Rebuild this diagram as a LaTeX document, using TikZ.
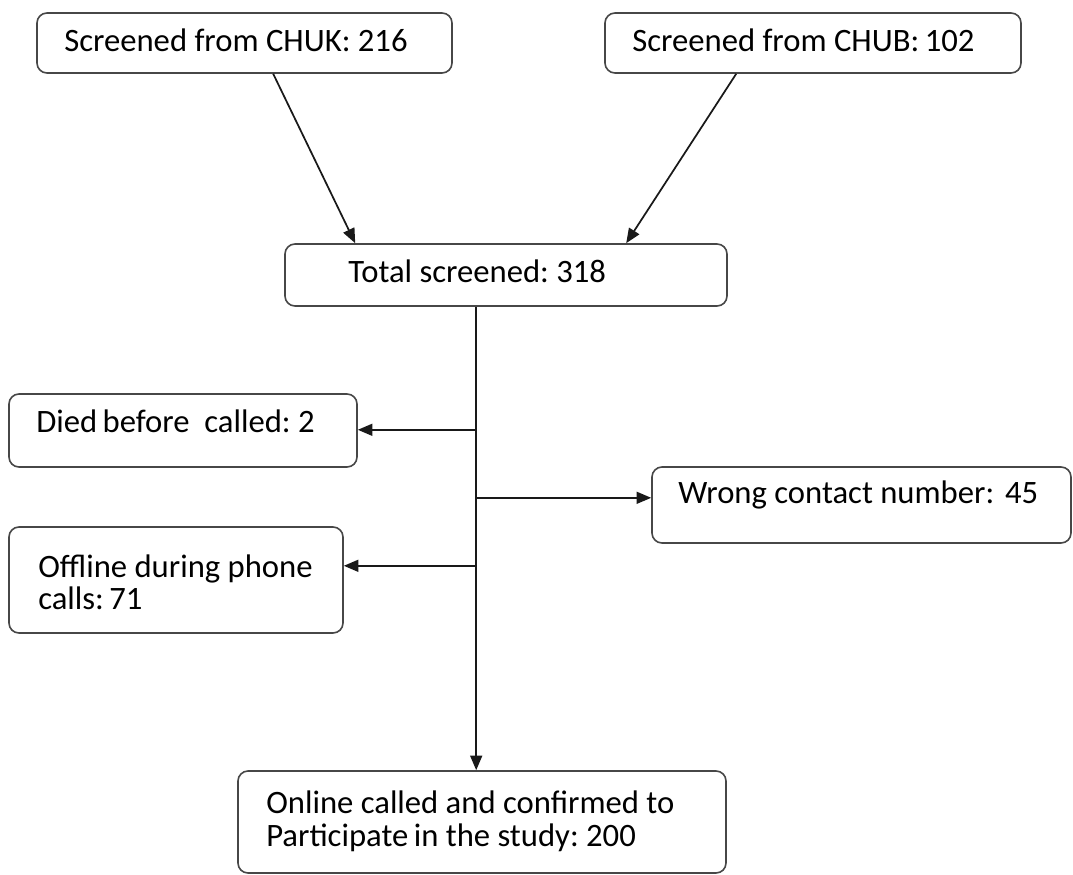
\documentclass[tikz,border=0pt]{standalone}
\usepackage{fontspec}
\setmainfont{Carlito}
\usetikzlibrary{arrows.meta,fit,calc}
\frenchspacing
\begin{document}
\begin{tikzpicture}[x=0.75pt,y=-0.75pt,
  box/.style={draw=black!72,line width=1.2pt,rounded corners=7.5pt,inner sep=0pt},
  txt/.style={anchor=base west,inner sep=0pt,font=\fontsize{24.5}{30}\selectfont},
  conn/.style={line width=1.3pt,draw=black!90,-{Triangle[length=11pt,width=9pt]}},
  plain/.style={line width=1.3pt,draw=black!90}]
\useasboundingbox (0,0) rectangle (1073,874);
% boxes
\node[box,fit={(37,13) (452,73)}] (b1) {};
\node[box,fit={(605,13) (1021,73)}] (b2) {};
\node[box,fit={(285,244) (727,306)}] (b3) {};
\node[box,fit={(9,394) (357,467)}] (b4) {};
\node[box,fit={(652,467) (1071,543)}] (b5) {};
\node[box,fit={(9,527) (343,633)}] (b6) {};
\node[box,fit={(238,771) (726,873)}] (b7) {};
% texts
\node[txt] (t1) at (64,51) {Screened from CHUK: 216};
\node[txt] (t2) at (632,51) {Screened from CHUB:\,102};
\node[txt] (t3) at (348,282) {Total screened: 318};
\node[txt] (t4) at (36,432) {Died\,before\ \ called: 2};
\node[txt] (t5) at (678,503) {Wrong contact number:\hspace{2.5pt} 45};
\node[txt] (t6) at (38,577) {Offline during phone};
\node[txt] (t6b) at (38,609) {calls:\,71};
\node[txt] (t7) at (266,813) {Online called and confirmed to};
\node[txt] (t7b) at (266,846) {Participate\,in the study: 200};
% connectors
\draw[conn] ($(b1.south west)+(237,0)$) -- ($(b3.north west)+(71,0)$);
\draw[conn] ($(b2.south west)+(132,0)$) -- ($(b3.north west)+(342,0)$);
\coordinate (top) at ($(b3.south west)+(192,0)$);
\draw[conn] (top) -- (top |- b7.north);
\coordinate (j1) at ($(top)+(0,123)$);
\coordinate (j2) at ($(top)+(0,191)$);
\coordinate (j3) at ($(top)+(0,259)$);
\draw[conn] (j1) -- (j1 -| b4.east);
\draw[conn] (j2) -- (j2 -| b5.west);
\draw[conn] (j3) -- (j3 -| b6.east);
\end{tikzpicture}
\end{document}
